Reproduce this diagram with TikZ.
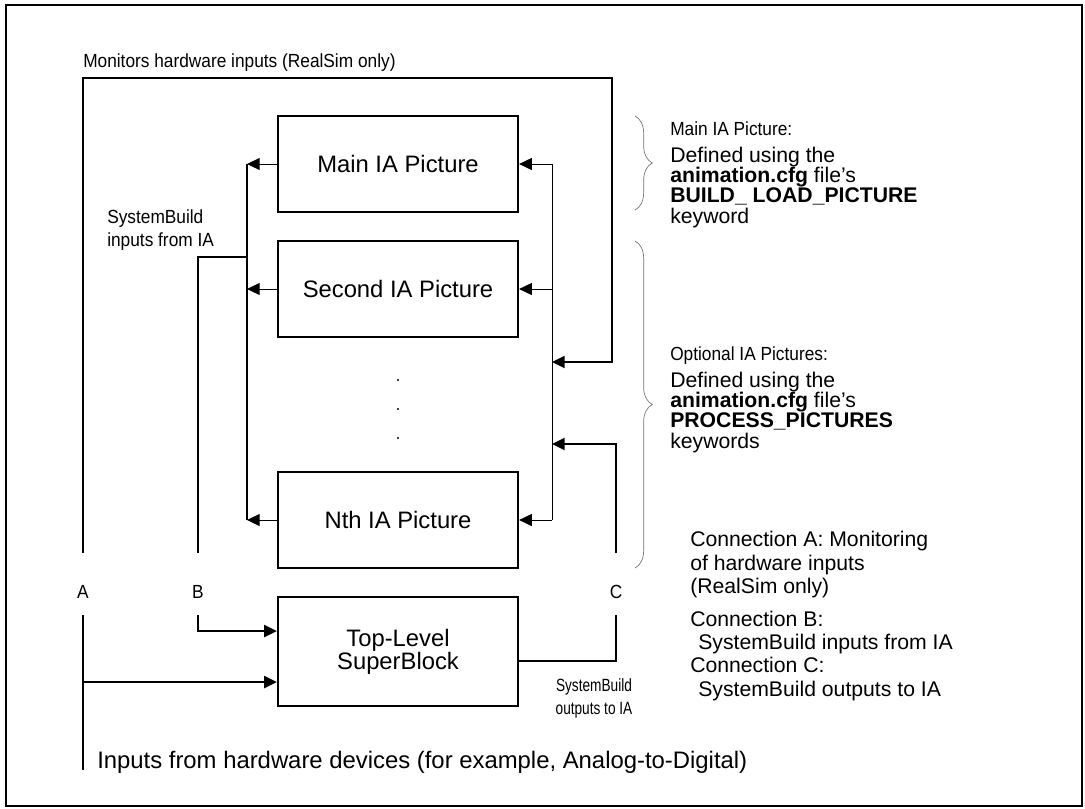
\documentclass[tikz,border=0pt]{standalone}
\usepackage{fontspec}
\setmainfont{Liberation Sans}
\newfontfamily\narrowfam[FakeStretch=0.91]{Liberation Sans}
\newfontfamily\condfam[FakeStretch=0.77]{Liberation Sans}
\usetikzlibrary{arrows.meta,decorations.pathreplacing}
\newcommand\myBoxFont{\fontsize{17.85pt}{17.25pt}\selectfont}
\newcommand\myRtFont{\fontsize{15.9pt}{15pt}\selectfont}
\newcommand\myNrFont{\narrowfam\fontsize{14.25pt}{15pt}\selectfont}
\newcommand\myCdFont{\condfam\fontsize{13.3pt}{17.25pt}\selectfont}
\newcommand\myBtFont{\fontsize{17.9pt}{18pt}\selectfont}
\begin{document}
\begin{tikzpicture}[x=0.75pt,y=-0.75pt,
  thk/.style={line width=1.5pt},
  thn/.style={line width=0.75pt},
  arr/.style={-{Triangle[length=9.5pt,width=9pt]}},
  box/.style={draw,line width=1.7pt,minimum width=180pt,minimum height=72pt,inner sep=0pt,align=center,font=\myBoxFont},
  rtxt/.style={anchor=base west,inner sep=0pt,font=\myRtFont},
  ntxt/.style={anchor=base west,inner sep=0pt,font=\myNrFont},
  lbl/.style={anchor=base,inner sep=0pt,font=\myNrFont},
  brc/.style={draw=black!55,line width=0.5pt,decorate,decoration={brace,amplitude=13pt}}]
\useasboundingbox (0,0) rectangle (1085,808);
\draw[line width=1.5pt] (6,5) rectangle (1082,806);

% boxes
\node[box] (main) at (398,164) {Main IA Picture};
\node[box] (second) at (398,289) {Second IA Picture};
\node[box] (nth) at (398,520) {Nth IA Picture};
\node[box,minimum height=82pt] (top) at (398,651.5) {Top-Level\\SuperBlock};

% dots
\fill (398,380) circle (1.1);
\fill (398,409) circle (1.1);
\fill (398,438) circle (1.1);

% helper coordinates
\coordinate (lbx) at (247,0);
\coordinate (rbx) at (552,0);
\coordinate (bjoin) at (247,257);
\coordinate (btop) at (198,553);
\coordinate (bbot) at (198,615);
\coordinate (atop) at (83,553);
\coordinate (abot) at (83,615);
\coordinate (aend) at (83,770);
\coordinate (ctop) at (616,553);
\coordinate (cbot) at (616,615);
\coordinate (mc) at (612,78);
\coordinate (rbm) at (552,362);
\coordinate (rbc) at (552,444);
\coordinate (yA) at (0,682);
\coordinate (yB) at (0,631);
\coordinate (yC) at (0,661);

% left bus
\draw[thk] (main.west -| lbx) -- (nth.west -| lbx);
\draw[thn,arr] (main.west) -- (main.west -| lbx);
\draw[thn,arr] (second.west) -- (second.west -| lbx);
\draw[thn,arr] (nth.west) -- (nth.west -| lbx);

% right bus
\draw[thn] (main.east -| rbx) -- (nth.east -| rbx);
\draw[thn,arr] (main.east -| rbx) -- (main.east);
\draw[thn,arr] (second.east -| rbx) -- (second.east);
\draw[thn,arr] (nth.east -| rbx) -- (nth.east);

% labels A B C
\node[lbl] (la) at (83,598) {A};
\node[lbl] (lb) at (198,598) {B};
\node[lbl] (lc) at (616,598) {C};

% connection A (monitor)
\draw[thk,arr] (atop) |- (mc) |- (rbm);
\draw[thk] (abot) -- (aend);
\draw[thk,arr] (abot |- yA) -- (top.west |- yA);

% connection B
\draw[thk] (bjoin) -| (btop);
\draw[thk,arr] (bbot) |- (top.west |- yB);

% connection C
\draw[thk] (top.east |- yC) -| (cbot);
\draw[thk,arr] (ctop) |- (rbc);

% braces
\draw[brc] (635,116) -- (635,210);
\draw[brc] (635,241) -- (635,568);

% texts
\node[ntxt] (t0) at (83,67) {Monitors hardware inputs (RealSim only)};
\node[ntxt] (t1) at (107,223) {SystemBuild};
\node[ntxt] (t2) at (107,246) {inputs from IA};

\node[ntxt] (u0) at (670,135) {Main IA Picture:};
\node[rtxt] (u1) at (670,162) {Defined using the};
\node[rtxt] (u2) at (670,182) {\textbf{animation.cfg} file’s};
\node[rtxt] (u3) at (670,202) {\textbf{BUILD\_ LOAD\_PICTURE}};
\node[rtxt] (u4) at (670,223) {keyword};

\node[ntxt] (o0) at (670,360) {Optional IA Pictures:};
\node[rtxt] (o1) at (670,387) {Defined using the};
\node[rtxt] (o2) at (670,407) {\textbf{animation.cfg} file’s};
\node[rtxt] (o3) at (670,427) {\textbf{PROCESS\_PICTURES}};
\node[rtxt] (o4) at (670,448) {keywords};

\node[rtxt] (c1) at (690,546) {Connection A: Monitoring};
\node[rtxt] (c2) at (690,570) {of hardware inputs};
\node[rtxt] (c3) at (690,593) {(RealSim only)};
\node[rtxt] (c4) at (690,626) {Connection B:};
\node[rtxt] (c5) at (698,649) {SystemBuild inputs from IA};
\node[rtxt] (c6) at (690,672) {Connection C:};
\node[rtxt] (c7) at (698,696) {SystemBuild outputs to IA};

\node[anchor=north,inner sep=0pt,align=center,font=\myCdFont] (so) at (594,678) {SystemBuild\\outputs to IA};

\node[anchor=base west,inner sep=0pt,font=\myBtFont] (hw) at (97,768) {Inputs from hardware devices (for example, Analog-to-Digital)};
\end{tikzpicture}
\end{document}
